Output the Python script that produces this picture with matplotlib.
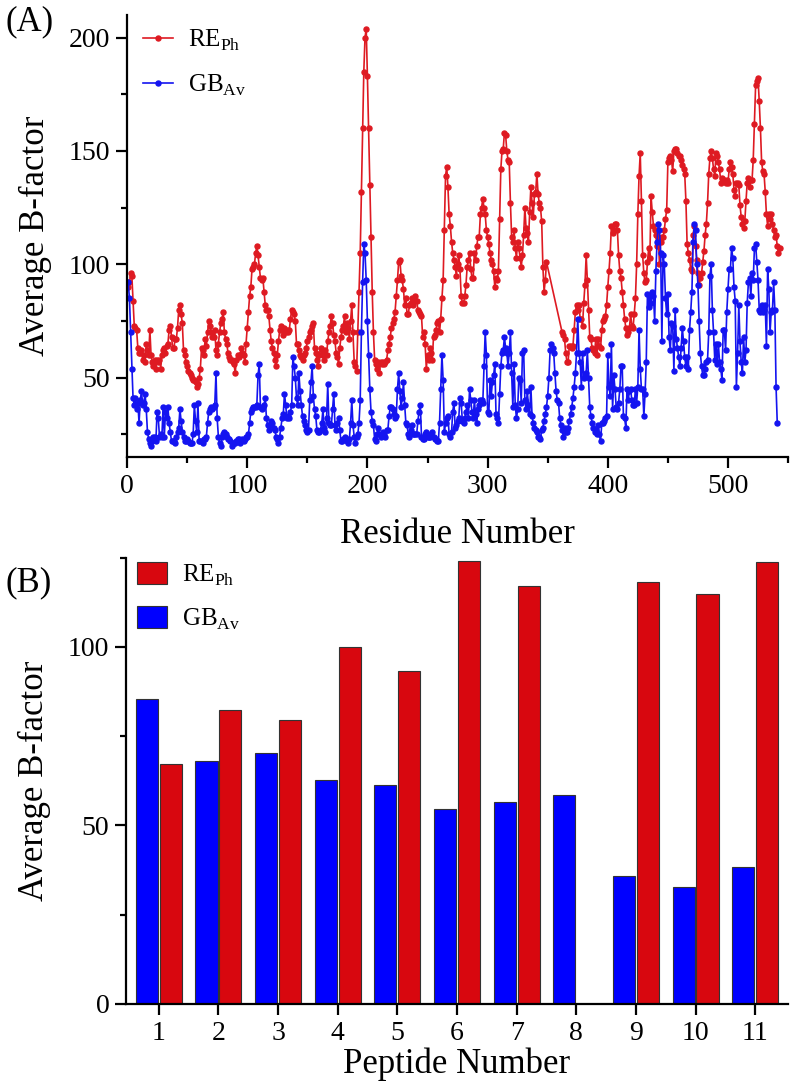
import numpy as np
import matplotlib
matplotlib.use('Agg')
import matplotlib.pyplot as plt
from matplotlib.ticker import MultipleLocator

plt.rcParams['font.family'] = ['Liberation Serif', 'DejaVu Serif']
plt.rcParams['mathtext.fontset'] = 'custom'
plt.rcParams['mathtext.rm'] = 'Liberation Serif'

#------------------------------------------------------------------------------------
# Data

# (A) average B-factor per residue, GB_Av: residues 1..541
gb_av = [
    92, 85, 70, 54, 41, 38, 41, 36, 39, 30,
    40, 44, 38, 39, 43, 36, 26, 23, 21, 20,
    22, 24, 24, 22, 35, 32, 24, 25, 24, 37,
    24, 35, 32, 37, 30, 26, 22, 22, 22, 21,
    24, 26, 28, 36, 31, 26, 24, 22, 22, 23,
    22, 21, 21, 21, 25, 38, 31, 26, 39, 22,
    22, 22, 21, 23, 23, 24, 30, 35, 36, 37,
    36, 37, 38, 52, 32, 24, 21, 20, 24, 25,
    26, 25, 24, 23, 23, 22, 20, 21, 21, 21,
    22, 23, 23, 21, 22, 23, 22, 23, 24, 24,
    25, 30, 35, 36, 37, 37, 37, 38, 51, 56,
    37, 36, 37, 38, 41, 32, 29, 27, 29, 31,
    30, 28, 27, 24, 23, 21, 24, 28, 32, 34,
    43, 38, 32, 33, 32, 35, 38, 59, 55, 50,
    41, 38, 52, 44, 38, 33, 31, 29, 27, 26,
    27, 40, 48, 55, 42, 36, 33, 27, 26, 26,
    27, 30, 36, 28, 26, 32, 47, 30, 29, 29,
    36, 43, 29, 27, 30, 32, 27, 22, 22, 23,
    24, 23, 22, 21, 23, 30, 40, 29, 24, 21,
    24, 25, 30, 40, 70, 92, 109, 105, 93, 75,
    60, 45, 35, 31, 29, 23, 22, 25, 28, 25,
    24, 25, 26, 25, 24, 27, 27, 33, 37, 37,
    36, 34, 32, 33, 45, 52, 44, 37, 41, 48,
    38, 30, 29, 25, 24, 27, 29, 25, 25, 25,
    25, 31, 35, 38, 24, 23, 23, 25, 26, 24,
    24, 24, 25, 26, 24, 23, 23, 22, 22, 30,
    45, 60, 49, 26, 30, 32, 33, 25, 24, 26,
    35, 39, 28, 29, 31, 32, 41, 39, 31, 30,
    32, 35, 38, 32, 45, 40, 35, 32, 40, 34,
    30, 36, 38, 40, 40, 39, 55, 70, 60, 35,
    34, 49, 42, 48, 51, 56, 34, 32, 30, 43,
    55, 61, 62, 68, 63, 61, 55, 61, 70, 52,
    37, 56, 38, 32, 36, 50, 49, 39, 61, 62,
    40, 36, 44, 38, 34, 46, 33, 30, 28, 27,
    26, 24, 24, 23, 27, 28, 31, 34, 37, 42,
    50, 62, 65, 63, 61, 52, 44, 40, 39, 32,
    29, 27, 24, 28, 26, 26, 28, 31, 34, 37,
    41, 46, 52, 61, 76, 61, 57, 46, 61, 50,
    51, 52, 62, 50, 37, 33, 30, 28, 26, 27,
    25, 29, 25, 22, 30, 30, 31, 32, 33, 60,
    46, 42, 65, 36, 51, 45, 37, 36, 39, 45,
    55, 55, 33, 32, 28, 45, 40, 44, 45, 40,
    38, 38, 45, 39, 46, 71, 54, 45, 45, 33,
    43, 57, 87, 81, 86, 83, 88, 86, 75, 97,
    110, 118, 115, 105, 66, 104, 100, 85, 78, 87,
    68, 62, 74, 73, 53, 80, 67, 63, 59, 55,
    63, 72, 66, 59, 55, 59, 54, 71, 79, 88,
    110, 118, 115, 100, 91, 75, 61, 55, 51, 51,
    54, 57, 58, 70, 95, 100, 80, 70, 58, 65,
    56, 65, 57, 54, 49, 71, 71, 62, 79, 89,
    98, 98, 107, 103, 90, 84, 46, 61, 82, 66,
    57, 52, 68, 57, 62, 83, 92, 94, 86, 96,
    93, 107, 109, 101, 93, 80, 79, 82, 79, 80,
    82, 64, 98, 89, 70, 79, 80, 92, 80, 46,
    30]

# RE_Ph: residues 1..349, then a gap, then 362..543
re_ph_a = [
    90, 92, 96, 95, 84, 73, 72, 71, 63, 61,
    61, 62, 58, 60, 57, 65, 62, 60, 71, 60,
    57, 55, 58, 54, 58, 57, 58, 54, 60, 62,
    63, 61, 64, 65, 71, 73, 68, 63, 63, 67,
    67, 72, 80, 82, 78, 74, 62, 60, 57, 55,
    53, 52, 51, 50, 49, 49, 48, 46, 47, 50,
    54, 63, 62, 60, 67, 64, 70, 75, 73, 70,
    68, 68, 71, 62, 60, 65, 70, 74, 76, 79,
    70, 67, 65, 61, 59, 58, 58, 57, 56, 52,
    58, 60, 59, 60, 63, 61, 60, 57, 65, 72,
    79, 86, 90, 98, 99, 100, 105, 108, 104, 99,
    94, 93, 94, 88, 82, 80, 80, 77, 71, 66,
    63, 61, 58, 55, 60, 66, 71, 73, 72, 69,
    72, 70, 71, 70, 71, 76, 80, 79, 78, 75,
    65, 65, 62, 60, 59, 58, 60, 61, 63, 66,
    68, 70, 71, 73, 74, 63, 61, 58, 55, 60,
    63, 62, 60, 58, 62, 60, 66, 70, 73, 77,
    74, 69, 66, 61, 59, 56, 63, 68, 71, 73,
    77, 70, 74, 72, 67, 75, 82, 70, 57, 55,
    53, 70, 88, 105, 132, 160, 185, 200, 204, 183,
    160, 135, 112, 88, 70, 58, 56, 54, 57, 52,
    57, 56, 57, 56, 57, 58, 62, 65, 68, 72,
    74, 76, 79, 86, 93, 101, 102, 95, 93, 89,
    82, 85, 78, 78, 82, 83, 85, 82, 84, 86,
    84, 80, 79, 78, 77, 68, 70, 65, 54, 60,
    58, 63, 61, 58, 68, 69, 71, 74, 75, 70,
    76, 85, 93, 115, 139, 143, 134, 122, 117, 110,
    105, 102, 99, 95, 100, 104, 98, 86, 83, 83,
    86, 91, 99, 102, 105, 98, 94, 94, 105, 102,
    108, 112, 112, 122, 125, 129, 125, 122, 115, 112,
    109, 105, 102, 100, 97, 90, 94, 93, 97, 120,
    142, 150, 151, 158, 157, 150, 146, 145, 127, 112,
    110, 115, 107, 103, 110, 107, 103, 99, 104, 113,
    125, 116, 114, 110, 123, 134, 127, 121, 131, 132,
    140, 131, 127, 125, 119, 99, 88, 93, 101]
re_ph_b = [
    70, 69, 67, 61, 57, 57, 64, 64, 63,
    64, 71, 79, 82, 80, 82, 76, 76, 73, 83,
    91, 104, 93, 80, 68, 67, 63, 62, 61, 67,
    60, 67, 64, 63, 71, 75, 76, 77, 82, 90,
    97, 105, 117, 114, 115, 118, 118, 115, 104, 97,
    94, 88, 82, 76, 72, 69, 70, 72, 78, 73,
    72, 78, 85, 100, 122, 139, 149, 128, 104, 96,
    92, 93, 101, 107, 103, 130, 123, 117, 115, 113,
    108, 112, 100, 110, 112, 112, 115, 120, 124, 145,
    147, 148, 146, 141, 150, 151, 151, 149, 148, 148,
    146, 144, 142, 140, 128, 109, 105, 102, 98, 97,
    113, 117, 108, 102, 96, 91, 94, 96, 101, 106,
    113, 118, 127, 140, 147, 150, 147, 142, 139, 149,
    148, 145, 142, 136, 138, 137, 137, 136, 137, 136,
    142, 145, 143, 140, 133, 130, 136, 136, 135, 126,
    121, 118, 116, 119, 128, 136, 138, 134, 137, 137,
    146, 162, 179, 181, 182, 172, 160, 145, 141, 140,
    132, 122, 117, 122, 120, 122, 118, 115, 112, 113,
    108, 105, 107]
gap_end = 362

# (B) average B-factor per peptide
peptides = np.arange(1, 12)
bar_gb = [85.3, 68.1, 70.3, 62.6, 61.3, 54.6, 56.6, 58.5, 35.8, 32.7, 38.3]
bar_re = [67.1, 82.3, 79.5, 100.0, 93.2, 124.0, 117.0, np.nan, 118.1, 114.9, 123.8]

lab_re = r'RE$_{\mathregular{Ph}}$'
lab_gb = r'GB$_{\mathregular{Av}}$'

#------------------------------------------------------------------------------------
red_line = '#DE1A22'
blue_line = '#1414F0'
red_bar = '#D8070F'
blue_bar = '#0000FF'

fig = plt.figure(figsize=(7.91, 10.85), dpi=100)
ax1 = fig.add_axes([0.1606, 0.5788, 0.8357, 0.4074])
ax2 = fig.add_axes([0.1593, 0.0747, 0.8369, 0.4113])

for ax in (ax1, ax2):
    for s in ('top', 'right'):
        ax.spines[s].set_visible(False)
    for s in ('left', 'bottom'):
        ax.spines[s].set_linewidth(1.6)
    ax.tick_params(which='major', direction='out', length=8, width=1.6,
                   labelsize=20, pad=4)
    ax.tick_params(which='minor', direction='out', length=4.5, width=1.6)

# top panel
res_gb = np.arange(1, len(gb_av) + 1)
res_re = np.concatenate([np.arange(1, len(re_ph_a) + 1),
                         np.arange(gap_end, gap_end + len(re_ph_b))])
re_ph = re_ph_a + re_ph_b

ax1.plot(res_re, re_ph, color=red_line, marker='o', ms=3.6, lw=1.2, label=lab_re)
ax1.plot(res_gb, gb_av, color=blue_line, marker='o', ms=3.6, lw=1.2, label=lab_gb)
ax1.set_xlim(0, 550)
ax1.set_ylim(15, 210)
ax1.xaxis.set_major_locator(MultipleLocator(100))
ax1.xaxis.set_minor_locator(MultipleLocator(50))
ax1.yaxis.set_major_locator(MultipleLocator(50))
ax1.yaxis.set_minor_locator(MultipleLocator(25))
ax1.set_xlabel('Residue Number', fontsize=25)
ax1.set_ylabel('Average B-factor', fontsize=25)
ax1.xaxis.set_label_coords(0.5, -0.176)
ax1.xaxis.label.set_va('center')
ax1.yaxis.set_label_coords(-0.139, 0.5)
ax1.yaxis.label.set_va('center')
ax1.legend(loc='upper left', bbox_to_anchor=(0.024, 0.972), frameon=False,
           fontsize=18, borderpad=0, borderaxespad=0, handlelength=1.2,
           handletextpad=0.6, labelspacing=0.8)

# bottom panel
w = 0.37
ax2.bar(peptides - 0.2, bar_gb, width=w, color=blue_bar, edgecolor='#333333',
        linewidth=0.8, label=lab_gb)
ax2.bar(peptides + 0.2, bar_re, width=w, color=red_bar, edgecolor='#333333',
        linewidth=0.8, label=lab_re)
ax2.set_xlim(0.45, 11.55)
ax2.set_ylim(0, 125)
ax2.set_xticks(peptides)
ax2.yaxis.set_major_locator(MultipleLocator(50))
ax2.yaxis.set_minor_locator(MultipleLocator(25))
ax2.set_xlabel('Peptide Number', fontsize=25)
ax2.set_ylabel('Average B-factor', fontsize=25)
ax2.xaxis.set_label_coords(0.5, -0.136)
ax2.xaxis.label.set_va('center')
ax2.yaxis.set_label_coords(-0.138, 0.5)
ax2.yaxis.label.set_va('center')
h, l = ax2.get_legend_handles_labels()
ax2.legend(h[::-1], l[::-1], loc='upper left', bbox_to_anchor=(0.0166, 0.99),
           frameon=False, fontsize=18, borderpad=0, borderaxespad=0,
           handlelength=1.2, handleheight=0.95, handletextpad=0.62,
           labelspacing=0.75)

fig.text(0.037, 0.980, '(A)', fontsize=25, ha='center', va='center')
fig.text(0.036, 0.463, '(B)', fontsize=25, ha='center', va='center')

fig.savefig('out.png', dpi=100)
